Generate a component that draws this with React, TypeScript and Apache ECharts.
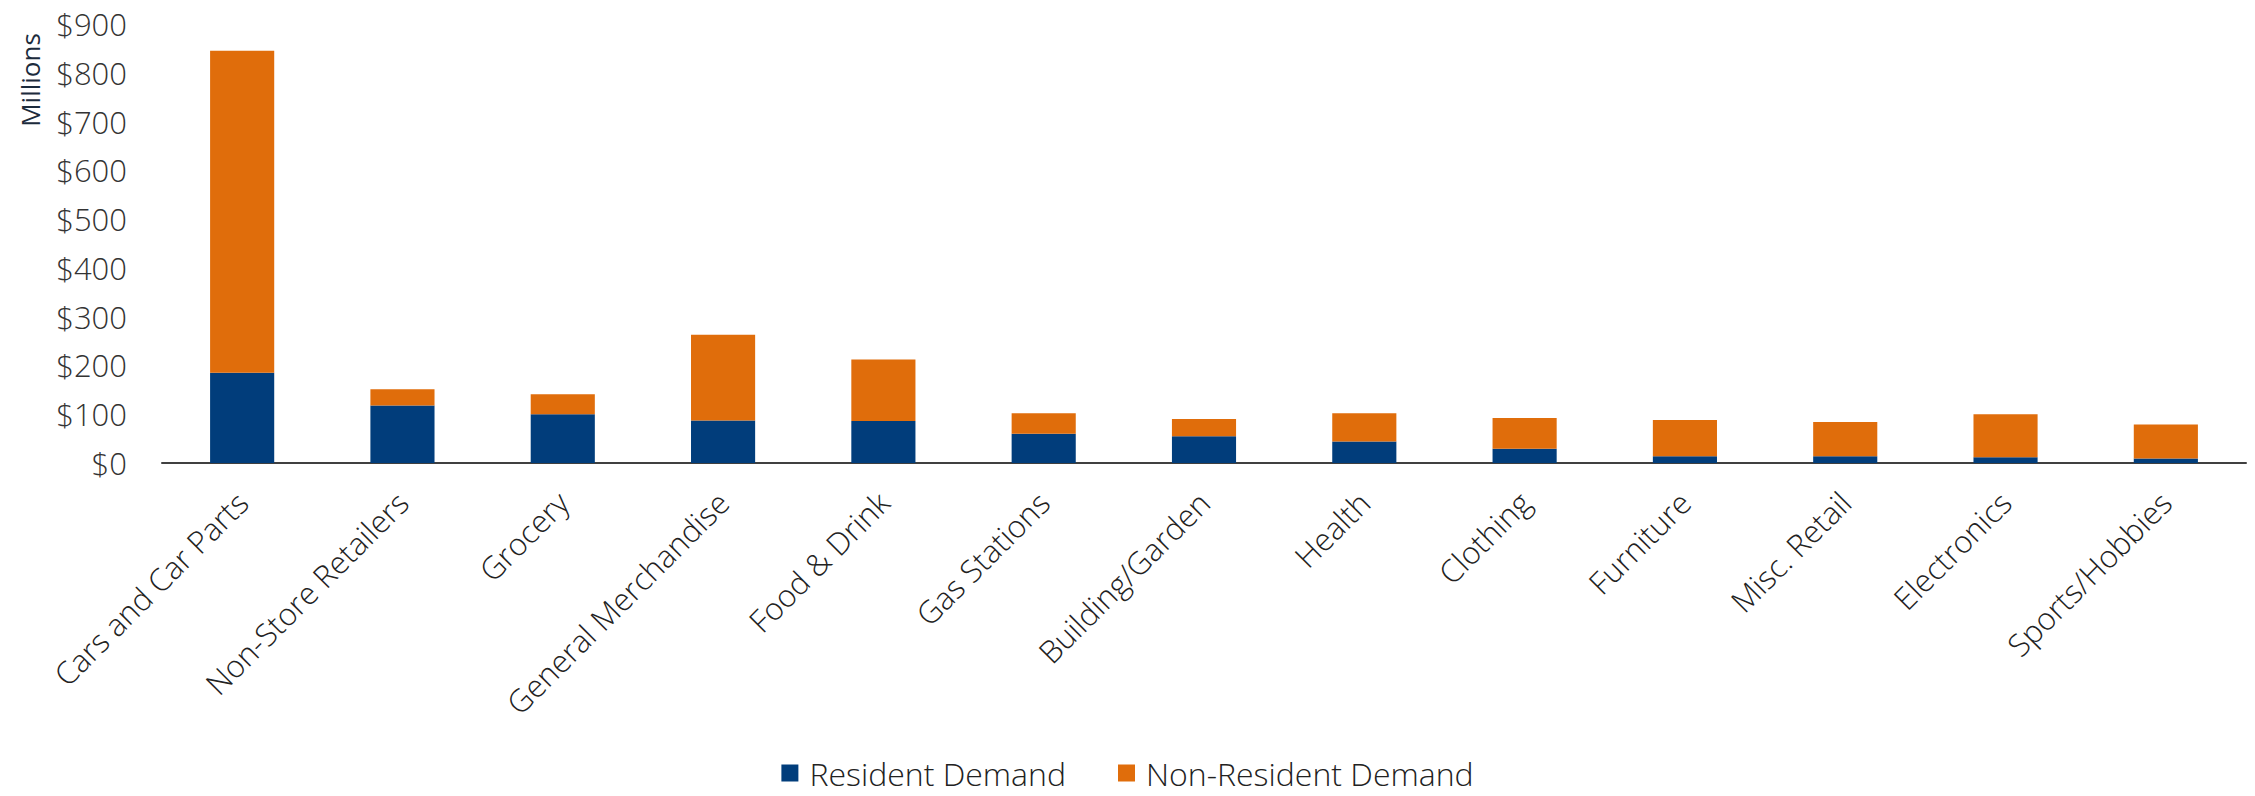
import React, { useEffect, useRef } from "react";
import * as echarts from "echarts";

const categories = [
  "Cars and Car Parts",
  "Non-Store Retailers",
  "Grocery",
  "General Merchandise",
  "Food & Drink",
  "Gas Stations",
  "Building/Garden",
  "Health",
  "Clothing",
  "Furniture",
  "Misc. Retail",
  "Electronics",
  "Sports/Hobbies",
];
const residentDemand = [185, 118, 100, 87, 86, 60, 55, 44, 29, 14, 14, 12, 9];
const nonResidentDemand = [660, 33, 41, 176, 126, 42, 35, 58, 63, 74, 70, 88, 70];
const seriesNames = ["Resident Demand", "Non-Resident Demand"];
const yAxisName = "Millions";

const FONT = "'Open Sans', 'Noto Sans', sans-serif";

export default function App() {
  const ref = useRef<HTMLDivElement>(null);
  useEffect(() => {
    document.body.style.margin = "0";
    if (!ref.current) return;
    const chart = echarts.init(ref.current, null, { renderer: "svg" });
    chart.setOption({
      animation: false,
      textStyle: { fontFamily: FONT },
      grid: { left: 162, right: 9, top: 24, bottom: 333, containLabel: false },
      legend: {
        bottom: 2,
        left: "center",
        itemWidth: 17,
        itemHeight: 17,
        itemGap: 52,
        icon: "rect",
        textStyle: {
          fontFamily: FONT,
          fontSize: 32,
          fontWeight: 300,
          color: "#222",
          padding: [0, 0, 0, 6],
        },
        data: seriesNames,
      },
      graphic: [
        {
          type: "text",
          x: 30,
          y: 80,
          rotation: Math.PI / 2,
          style: {
            text: yAxisName,
            fontFamily: FONT,
            fontSize: 26,
            fill: "#1c2b3c",
            align: "center",
            verticalAlign: "middle",
          },
        },
      ],
      xAxis: {
        type: "category",
        data: categories,
        axisTick: { show: false },
        axisLine: { lineStyle: { color: "#404040", width: 2 } },
        axisLabel: {
          rotate: 45,
          interval: 0,
          margin: 34,
          fontSize: 31,
          fontWeight: 300,
          color: "#222",
          fontFamily: FONT,
        },
      },
      yAxis: {
        type: "value",
        min: 0,
        max: 900,
        interval: 100,
        splitLine: { show: false },
        axisLine: { show: false },
        axisTick: { show: false },
        axisLabel: {
          margin: 35,
          fontSize: 31,
          fontWeight: 300,
          color: "#333",
          fontFamily: FONT,
          formatter: (v: number) => "$" + v,
        },
      },
      series: [
        {
          name: seriesNames[0],
          type: "bar",
          stack: "total",
          barWidth: "40%",
          data: residentDemand,
          itemStyle: { color: "#013d7b" },
        },
        {
          name: seriesNames[1],
          type: "bar",
          stack: "total",
          barWidth: "40%",
          data: nonResidentDemand,
          itemStyle: { color: "#e06d0b" },
        },
      ],
    });
    return () => chart.dispose();
  }, []);
  return <div ref={ref} style={{ width: 2255, height: 796 }} />;
}
